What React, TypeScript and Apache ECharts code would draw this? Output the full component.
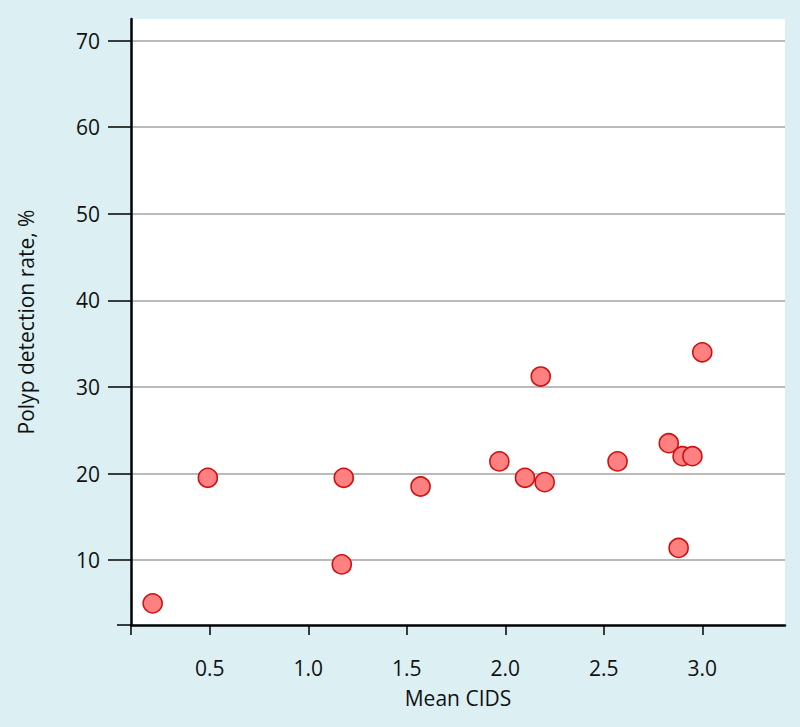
import React, { useEffect, useRef } from "react";
import * as echarts from "echarts";

const meanCids = [0.21, 0.49, 1.18, 1.17, 1.57, 1.97, 2.1, 2.18, 2.2, 2.57, 2.83, 2.88, 2.9, 2.95, 3.0];
const detectionRate = [5.0, 19.5, 19.5, 9.5, 18.5, 21.4, 19.5, 31.2, 19.0, 21.4, 23.5, 11.4, 22.0, 22.0, 34.0];
const xTicks = [0.5, 1.0, 1.5, 2.0, 2.5, 3.0];
const yTicks = [10, 20, 30, 40, 50, 60, 70];
const xAxisTitle = "Mean CIDS";
const yAxisTitle = "Polyp detection rate, %";

const FONT = "Open Sans";

export default function App() {
  const ref = useRef<HTMLDivElement>(null);
  useEffect(() => {
    if (!ref.current) return;
    const chart = echarts.init(ref.current, null, { renderer: "svg" });
    const points = meanCids.map((x, i) => [x, detectionRate[i]]);
    chart.setOption({
      animation: false,
      backgroundColor: "#dcf0f3",
      grid: {
        left: 131,
        right: 15,
        top: 19,
        bottom: 102,
        show: true,
        backgroundColor: "#ffffff",
        borderWidth: 0,
      },
      xAxis: {
        type: "value",
        min: 0.1,
        max: 3.42,
        name: xAxisTitle,
        nameLocation: "middle",
        nameGap: 62,
        nameTextStyle: { fontFamily: FONT, fontSize: 21, color: "#111" },
        axisLine: { show: true, onZero: false, lineStyle: { color: "#000", width: 2.5 } },
        axisTick: {
          show: true,
          length: 10,
          lineStyle: { color: "#000", width: 1.5 },
          customValues: [0.1, ...xTicks],
        },
        axisLabel: {
          customValues: xTicks,
          margin: 32,
          fontFamily: FONT,
          fontSize: 21,
          color: "#111",
          formatter: (v: number) => v.toFixed(1),
        },
        splitLine: { show: false },
      },
      yAxis: {
        type: "value",
        min: 2.5,
        max: 72.5,
        name: yAxisTitle,
        nameLocation: "middle",
        nameGap: 95,
        nameTextStyle: { fontFamily: FONT, fontSize: 21, color: "#111" },
        axisLine: { show: true, onZero: false, lineStyle: { color: "#000", width: 2.5 } },
        axisTick: {
          show: true,
          length: 23,
          lineStyle: { color: "#000", width: 1.5 },
          customValues: yTicks,
        },
        axisLabel: {
          customValues: yTicks,
          margin: 31,
          fontFamily: FONT,
          fontSize: 21,
          color: "#111",
        },
        splitLine: { show: true, lineStyle: { color: "#a3a3a3", width: 1.5 } },
      },
      graphic: [
        {
          type: "line",
          shape: { x1: 117, y1: 625, x2: 131, y2: 625 },
          style: { stroke: "#000", lineWidth: 1.5 },
        },
      ],
      series: [
        {
          type: "scatter",
          data: points,
          symbol: "circle",
          symbolSize: 19,
          itemStyle: { color: "#ff8080", borderColor: "#d01010", borderWidth: 1.6, opacity: 1 },
        },
      ],
    });
    return () => chart.dispose();
  }, []);
  return (
    <div
      ref={ref}
      style={{ position: "fixed", left: 0, top: 0, width: 800, height: 727 }}
    />
  );
}
